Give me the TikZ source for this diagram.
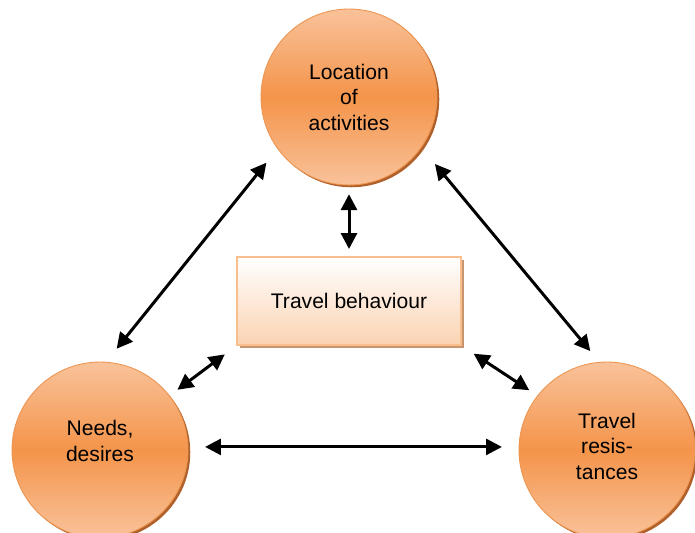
\documentclass[tikz,border=0pt]{standalone}
\usepackage{fontspec}
\setmainfont{Liberation Sans}
\usetikzlibrary{arrows.meta, shadows, positioning}
\definecolor{orangetop}{HTML}{F9C29A}
\definecolor{orangemid}{HTML}{F4944A}
\definecolor{orangeline}{HTML}{EC9550}
\definecolor{orangeshadow}{HTML}{B0602A}
\definecolor{peach}{HTML}{FBD3B2}
\definecolor{peachline}{HTML}{F8BE8C}
\definecolor{boxshadow}{HTML}{C8956E}

\begin{document}
\begin{tikzpicture}[x=0.02cm, y=-0.02cm,
    factor/.style={circle, minimum size=3.52cm, inner sep=0pt, align=center,
      font=\fontsize{12}{14.5}\selectfont, draw=orangeline, line width=0.5pt,
      top color=orangetop, bottom color=orangetop, middle color=orangemid,
      general shadow={fill=orangeshadow, shadow xshift=1.3pt, shadow yshift=-1.3pt}},
    behaviour/.style={rectangle, minimum width=4.48cm, minimum height=1.76cm,
      font=\fontsize{12}{14.5}\selectfont, draw=peachline, line width=1.1pt,
      top color=white, bottom color=peach,
      general shadow={fill=boxshadow, shadow xshift=1.8pt, shadow yshift=-1.8pt}},
    link/.style={{Triangle[length=9pt,width=9pt]}-{Triangle[length=9pt,width=9pt]}, line width=1.7pt},
  ]
  % Fix the page to the picture size
  \useasboundingbox (0,0) rectangle (695,533);

  % Draw the three factors
  \node[factor] (loc) at (349,97) {Location\\of\\activities};
  \node[factor] (needs) at (100,450) {Needs,\\desires\\[-4pt]~};
  \node[factor] (resist) at (607,450) {Travel\\resis-\\tances\\[-10pt]~};

  % Draw the central box
  \node[behaviour] (behav) at (349,301) {Travel behaviour};

  % Arrows between the factors
  \draw[link, shorten <=10pt, shorten >=9.5pt] (loc.216) -- (needs.86);
  \draw[link, shorten <=12pt, shorten >=8pt] (loc.325) -- (resist.95);
  \draw[link, shorten <=9.5pt, shorten >=9.5pt] (needs.2) -- (resist.178);

  % Arrows to the box
  \draw[link, shorten <=5pt, shorten >=4pt] (loc.south) -- (behav.north);
  \draw[link, shorten <=8pt, shorten >=5.5pt] (behav.south west) -- (needs.38);
  \draw[link, shorten <=8pt, shorten >=5.5pt] (behav.south east) -- (resist.142);
\end{tikzpicture}
\end{document}
